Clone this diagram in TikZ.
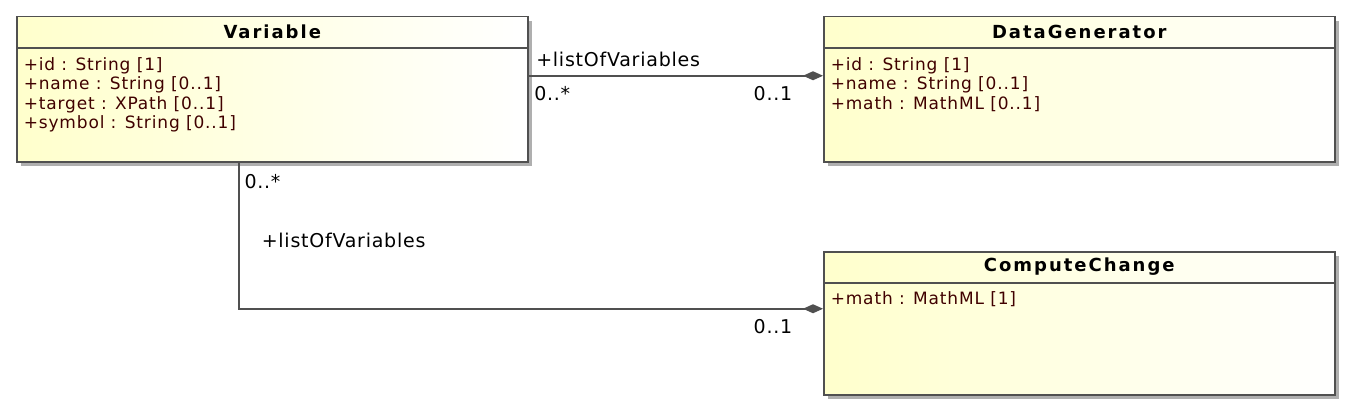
\documentclass[tikz,border=0pt]{standalone}
\usepackage{fontspec}
\setmainfont{DejaVu Sans}
\usetikzlibrary{arrows.meta,shadows}
\definecolor{umlfill}{RGB}{255,255,204}
\definecolor{umlline}{RGB}{80,80,80}
\definecolor{umlattr}{RGB}{64,0,0}
\definecolor{umlshadow}{RGB}{175,175,175}
\begin{document}
\begin{tikzpicture}[x=1pt,y=-1pt,line width=1.5pt,
  cls/.style={draw=umlline,rectangle,inner sep=0pt,anchor=north west,minimum width=511pt,
    left color=umlfill,right color=white,
    drop shadow={shadow xshift=4pt,shadow yshift=-4pt,fill=umlshadow,opacity=1}},
  hdr/.style={font=\fontsize{18}{22}\selectfont\bfseries\addfontfeature{LetterSpace=11},inner sep=0pt},
  attr/.style={font=\fontsize{17}{19.3}\selectfont\addfontfeature{LetterSpace=5},text=umlattr,align=left,inner sep=0pt,anchor=north west},
  lbl/.style={font=\fontsize{19}{22}\selectfont\addfontfeature{LetterSpace=4},inner sep=2pt},
  assoc/.style={draw=umlline,-{Diamond[length=20pt,width=9pt,fill=umlline]}}]
  \useasboundingbox (0,0) rectangle (1351,412);
  % classes
  \node[cls,minimum height=145pt] (var) at (16,16) {};
  \node[cls,minimum height=145pt] (dg) at (823,16) {};
  \node[cls,minimum height=143pt] (cc) at (823,251) {};
  \draw[umlline] ([yshift=-32pt]var.north west) -- ([yshift=-32pt]var.north east);
  \draw[umlline] ([yshift=-32pt]dg.north west) -- ([yshift=-32pt]dg.north east);
  \draw[umlline] ([yshift=-32pt]cc.north west) -- ([yshift=-32pt]cc.north east);
  \node[hdr] (var-name) at ([yshift=-16pt]var.north) {Variable};
  \node[hdr] (dg-name) at ([yshift=-16pt]dg.north) {DataGenerator};
  \node[hdr] (cc-name) at ([yshift=-16pt]cc.north) {ComputeChange};
  \node[attr] (var-attr) at ([xshift=7pt,yshift=-41pt]var.north west)
    {+id : String [1]\\+name : String [0..1]\\+target : XPath [0..1]\\+symbol : String [0..1]};
  \node[attr] (dg-attr) at ([xshift=7pt,yshift=-41pt]dg.north west)
    {+id : String [1]\\+name : String [0..1]\\+math : MathML [0..1]};
  \node[attr] (cc-attr) at ([xshift=7pt,yshift=-40pt]cc.north west) {+math : MathML [1]};
  % associations
  \coordinate (v-r) at ([yshift=13.5pt]var.east);
  \coordinate (dg-l) at ([yshift=13.5pt]dg.west);
  \coordinate (v-b) at ([xshift=-33.5pt]var.south);
  \coordinate (cc-l) at ([yshift=14.5pt]cc.west);
  \draw[assoc] (v-r) -- (dg-l);
  \draw[assoc] (v-b) |- (cc-l);
  \node[lbl,anchor=south west] (dg-role) at ([xshift=5pt,yshift=6pt]v-r) {+listOfVariables};
  \node[lbl,anchor=north west] (dg-mv) at ([xshift=3pt,yshift=-8pt]v-r) {0..*};
  \node[lbl,anchor=north east] (dg-mg) at ([xshift=-28pt,yshift=-8pt]dg-l) {0..1};
  \node[lbl,anchor=north west] (cc-mv) at ([xshift=3pt,yshift=-9pt]v-b) {0..*};
  \node[lbl,anchor=west] (cc-role) at (259,240) {+listOfVariables};
  \node[lbl,anchor=north east] (cc-mc) at ([xshift=-28pt,yshift=-8pt]cc-l) {0..1};
\end{tikzpicture}
\end{document}
